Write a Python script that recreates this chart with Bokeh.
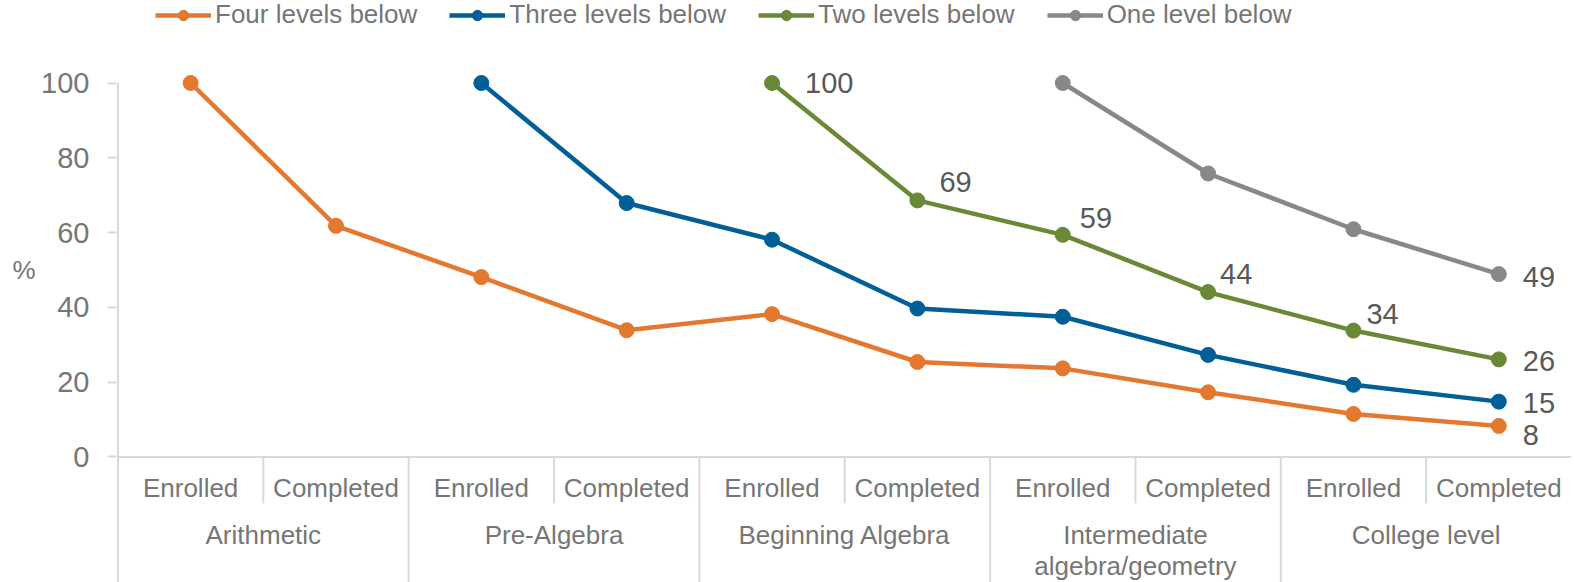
import numpy as np
from bokeh.plotting import figure
from bokeh.models import (ColumnDataSource, Range1d, FixedTicker, Legend, LegendItem,
                          LinearAxis)
from bokeh.core.properties import value
from bokeh.embed import file_html
from bokeh.resources import INLINE

nan = float("nan")

# ---- data ----
groups = ["Arithmetic", "Pre-Algebra", "Beginning Algebra",
          "Intermediate\nalgebra/geometry", "College level"]
stages = ["Enrolled", "Completed"]
series_names = ["Four levels below", "Three levels below",
                "Two levels below", "One level below"]
four_levels = [100, 61.8, 48.1, 33.9, 38.2, 25.4, 23.7, 17.3, 11.5, 8.3]
three_levels = [nan, nan, 100, 67.9, 58.1, 39.7, 37.5, 27.3, 19.3, 14.8]
two_levels = [nan, nan, nan, nan, 100, 68.6, 59.4, 44.1, 33.8, 26.1]
one_level = [nan, nan, nan, nan, nan, nan, 100, 75.8, 60.9, 48.9]
y_ticks = [0, 20, 40, 60, 80, 100]
y_label = "%"

# ---- styles ----
colors = ["#E5782F", "#005F96", "#6A8936", "#888888"]
FONT = "Liberation Sans"
AXIS_GREY = "#D9D9D9"
TEXT_GREY = "#767676"
LABEL_GREY = "#595959"

W, H = 1574, 582
LEFT = 116
categories = [(g, s) for g in groups for s in stages]
n = len(categories)
xpos = np.arange(n) + 0.5

Y_BOTTOM = -33.56
Y_TOP = 122.06

p = figure(width=W, height=H, output_backend="svg", toolbar_location=None,
           x_range=Range1d(-0.01, n), y_range=Range1d(Y_BOTTOM, Y_TOP),
           min_border_left=LEFT, min_border_right=3, min_border_top=0, min_border_bottom=0,
           x_axis_location=None)
p.outline_line_color = None
p.grid.visible = False
p.background_fill_color = "white"
p.border_fill_color = "white"

yax = p.yaxis[0]
yax.ticker = FixedTicker(ticks=y_ticks)
yax.axis_line_color = None
yax.major_tick_line_color = AXIS_GREY
yax.major_tick_line_width = 2
yax.major_tick_out = 9
yax.major_tick_in = 0
yax.minor_tick_line_color = None
yax.major_label_text_font = FONT
yax.major_label_text_font_size = "29px"
yax.major_label_text_color = TEXT_GREY
yax.major_label_standoff = 18

# "%" title of the value axis, placed at the middle of the 0-100 scale
mid = (y_ticks[0] + y_ticks[-1]) // 2
pct_axis = LinearAxis(ticker=FixedTicker(ticks=[mid]), major_label_overrides={mid: y_label},
                      axis_line_color=None, major_tick_line_color=None,
                      minor_tick_line_color=None, major_tick_out=0, major_tick_in=0,
                      major_label_standoff=3, major_label_text_font=FONT,
                      major_label_text_font_size="26px", major_label_text_color=TEXT_GREY)
p.add_layout(pct_axis, "left")

# axis structure lines
p.segment(x0=[0], y0=[y_ticks[-1]], x1=[0], y1=[Y_BOTTOM - 5], line_color=AXIS_GREY, line_width=2)
p.segment(x0=[0], y0=[0], x1=[n], y1=[0], line_color=AXIS_GREY, line_width=2)
grp_x = [2 * i for i in range(1, len(groups))]
p.segment(x0=grp_x, y0=[0] * len(grp_x), x1=grp_x, y1=[Y_BOTTOM - 5] * len(grp_x),
          line_color=AXIS_GREY, line_width=2)
sub_x = [2 * i + 1 for i in range(len(groups))]
p.segment(x0=sub_x, y0=[0] * len(sub_x), x1=sub_x, y1=[-12.4] * len(sub_x),
          line_color=AXIS_GREY, line_width=2)

# category labels
p.text(x=list(xpos), y=[-8.16] * n, text=[c[1] for c in categories],
       text_font=value(FONT), text_font_size="26px", text_color=TEXT_GREY,
       text_align="center", text_baseline="middle")
p.text(x=[2 * i + 1 for i in range(len(groups))], y=[-16.9] * len(groups), text=groups,
       text_font=value(FONT), text_font_size="26px", text_color=TEXT_GREY,
       text_align="center", text_baseline="top", text_line_height=1.02)

series = [four_levels, three_levels, two_levels, one_level]
items = []
for name, vals, col in zip(series_names, series, colors):
    src = ColumnDataSource(dict(x=xpos, y=vals))
    r1 = p.line("x", "y", source=src, line_color=col, line_width=4.5)
    r2 = p.scatter("x", "y", source=src, marker="circle", size=15,
                   fill_color=col, line_color=col)
    items.append(LegendItem(label=name, renderers=[r1, r2]))

# data labels (indices shown and offsets in px)
label_specs = [
    (0, [9], [24], [9]),
    (1, [9], [24], [1]),
    (2, [4, 5, 6, 7, 8, 9], [33, 22, 17, 12, 13, 24], [0, -18, -17, -18, -17, 2]),
    (3, [9], [24], [3]),
]
for si, idxs, xo, yo in label_specs:
    vals = series[si]
    src = ColumnDataSource(dict(
        x=[xpos[i] for i in idxs], y=[vals[i] for i in idxs],
        t=[str(int(round(vals[i]))) for i in idxs], xo=xo, yo=yo))
    p.text("x", "y", text="t", source=src, x_offset="xo", y_offset="yo",
           text_font=value(FONT), text_font_size="29px", text_color=LABEL_GREY,
           text_align="left", text_baseline="middle")

legend = Legend(items=items, orientation="horizontal", location=(39, H - 4 - 26),
                glyph_width=56, glyph_height=26, label_height=26,
                label_standoff=4, spacing=32, padding=0, margin=0,
                border_line_color=None, background_fill_alpha=0,
                label_text_font=FONT, label_text_font_size="26px",
                label_text_color=TEXT_GREY)
p.add_layout(legend)

open("out.html", "w").write(file_html(p, INLINE))
